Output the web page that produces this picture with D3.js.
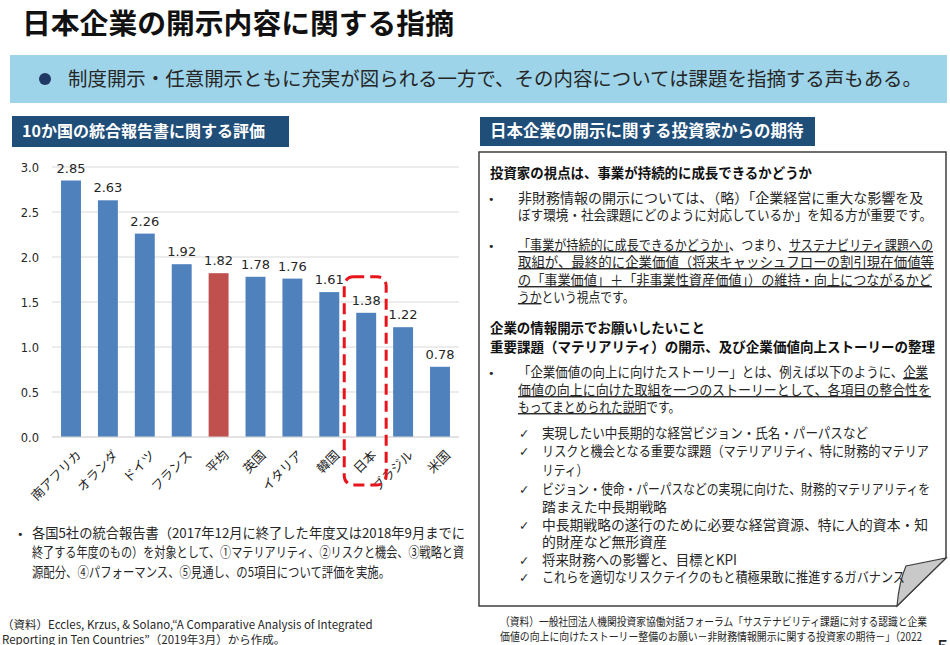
<!DOCTYPE html>
<html><head><meta charset="utf-8">
<script src="https://cdn.jsdelivr.net/npm/d3@7"></script>
<style>
html,body{margin:0;padding:0;background:#fff;}
svg{display:block;}
</style></head>
<body>
<svg id="c" width="950" height="645"></svg>
<script>
// ---- data ----
const categories = ["南アフリカ","オランダ","ドイツ","フランス","平均","英国","イタリア","韓国","日本","ブラジル","米国"];
const scores = [2.85, 2.63, 2.26, 1.92, 1.82, 1.78, 1.76, 1.61, 1.38, 1.22, 0.78];
const yTicks = [0, 0.5, 1.0, 1.5, 2.0, 2.5, 3.0];
const averageCategory = "平均";
const highlightCategory = "日本";

const pageTitle = "日本企業の開示内容に関する指摘";
const bannerText = "制度開示・任意開示ともに充実が図られる一方で、その内容については課題を指摘する声もある。";
const leftHeader = "10か国の統合報告書に関する評価";
const rightHeader = "日本企業の開示に関する投資家からの期待";
const leftNote = [
  "各国5社の統合報告書（2017年12月に終了した年度又は2018年9月までに",
  "終了する年度のもの）を対象として、①マテリアリティ、②リスクと機会、③戦略と資",
  "源配分、④パフォーマンス、⑤見通し、の5項目について評価を実施。"
];
const leftSource = [
  "（資料）Eccles, Krzus, & Solano,“A Comparative Analysis of Integrated",
  "Reporting in Ten Countries”（2019年3月）から作成。"
];
const rightSource = [
  "（資料）一般社団法人機関投資家協働対話フォーラム「サステナビリティ課題に対する認識と企業",
  "価値の向上に向けたストーリー整備のお願い－非財務情報開示に関する投資家の期待－」（2022",
  "年10月）より作成。"
];
// right panel lines: segments [text, underlined?]
const panelLines = [
  {kind:"head", segs:[["投資家の視点は、事業が持続的に成長できるかどうか",0]], w:322},
  {kind:"bullet", segs:[["非財務情報の開示については、（略）「企業経営に重大な影響を及",0]], w:410},
  {kind:"cont", segs:[["ぼす環境・社会課題にどのように対応しているか」を知る方が重要です。",0]], w:414},
  {kind:"bullet", segs:[["「事業が持続的に成長できるかどうか」",1],["、つまり、",0],["サステナビリティ課題への",1]], w:415},
  {kind:"cont", segs:[["取組が、最終的に企業価値（将来キャッシュフローの割引現在価値等",1]], w:416},
  {kind:"cont", segs:[["の「事業価値」＋「非事業性資産価値」）の維持・向上につながるかど",1]], w:414},
  {kind:"cont", segs:[["うか",1],["という視点です。",0]], w:114},
  {kind:"head", segs:[["企業の情報開示でお願いしたいこと",0]], w:215},
  {kind:"head", segs:[["重要課題（マテリアリティ）の開示、及び企業価値向上ストーリーの整理",0]], w:445},
  {kind:"bullet", segs:[["「企業価値の向上に向けたストーリー」とは、例えば以下のように、",0],["企業",1]], w:410},
  {kind:"cont", segs:[["価値の向上に向けた取組を一つのストーリーとして、各項目の整合性を",1]], w:413},
  {kind:"cont", segs:[["もってまとめられた説明",1],["です。",0]], w:154},
  {kind:"check", segs:[["実現したい中長期的な経営ビジョン・氏名・パーパスなど",0]], w:326},
  {kind:"check", segs:[["リスクと機会となる重要な課題（マテリアリティ、特に財務的マテリア",0]], w:387},
  {kind:"ccont", segs:[["リティ）",0]], w:36},
  {kind:"check", segs:[["ビジョン・使命・パーパスなどの実現に向けた、財務的マテリアリティを",0]], w:388},
  {kind:"ccont", segs:[["踏まえた中長期戦略",0]], w:125},
  {kind:"check", segs:[["中長期戦略の遂行のために必要な経営資源、特に人的資本・知",0]], w:386},
  {kind:"ccont", segs:[["的財産など無形資産",0]], w:125},
  {kind:"check", segs:[["将来財務への影響と、目標とKPI",0]], w:195},
  {kind:"check", segs:[["これらを適切なリスクテイクのもと積極果敢に推進するガバナンス",0]], w:363}
];
const panelLineY = [173,198,215,245,262,280,297,328,347,372,390,407,433,451,470,489,507,525,542,560,577];

// ---- drawing ----
const svg = d3.select("#c");
const JP = "'Noto Sans CJK JP', 'Noto Sans CJK SC', sans-serif";
const NUM = "'DejaVu Sans', Verdana, sans-serif";
const dark = "#262626";
const navy = "#1f4e79";

function fitText(sel, w, minRatio){
  const n = sel.node();
  const len = n.getComputedTextLength();
  const target = Math.max(w || len, len * (minRatio || 0.8));
  if (target < len) sel.attr("textLength", target).attr("lengthAdjust", "spacingAndGlyphs");
}
// baseline from visual center for CJK
const base = (cy, fs) => cy + 0.36*fs;

// Title
svg.append("text").attr("x", 22).attr("y", base(24, 28.5))
  .attr("font-family", JP).attr("font-weight", 700).attr("font-size", 28.8)
  .attr("fill", "#111").text(pageTitle);

// Banner
svg.append("rect").attr("x", 10).attr("y", 55).attr("width", 937).attr("height", 48).attr("fill", "#9dd4ea");
svg.append("circle").attr("cx", 45).attr("cy", 79).attr("r", 6).attr("fill", "#1f3864");
const bt = svg.append("text").attr("x", 68).attr("y", base(79, 19.5))
  .attr("font-family", JP).attr("font-size", 19.5).attr("fill", dark).text(bannerText);
fitText(bt, 854);

// Section headers
svg.append("rect").attr("x", 12).attr("y", 116).attr("width", 277).attr("height", 31).attr("fill", navy);
const lh = svg.append("text").attr("x", 22).attr("y", base(131.5, 16)).attr("font-family", JP)
  .attr("font-weight", 700).attr("font-size", 16).attr("fill", "#fff").text(leftHeader);
fitText(lh, 254);
svg.append("rect").attr("x", 480).attr("y", 117).attr("width", 335).attr("height", 29).attr("fill", navy);
const rh = svg.append("text").attr("x", 490).attr("y", base(131.5, 16.5)).attr("font-family", JP)
  .attr("font-weight", 700).attr("font-size", 16.5).attr("fill", "#fff").text(rightHeader);
fitText(rh, 314);

// ---- Bar chart ----
const x = d3.scaleBand().domain(categories).range([52, 459]).paddingInner(0.46).paddingOuter(0.245);
const y = d3.scaleLinear().domain([0, 3]).range([437, 167]);

const g = svg.append("g");
// gridlines
g.selectAll("line.grid").data(yTicks).join("line").attr("class","grid")
  .attr("x1", 52).attr("x2", 459).attr("y1", d => y(d)).attr("y2", d => y(d))
  .attr("stroke", "#d9d9d9").attr("stroke-width", 1);
// y axis via d3 axis
const yAxis = d3.axisLeft(y).tickValues(yTicks).tickFormat(d3.format(".1f")).tickSize(0).tickPadding(0);
const ya = g.append("g").attr("transform", "translate(39,0)").call(yAxis);
ya.select(".domain").remove();
ya.selectAll("text").attr("font-family", NUM).attr("font-size", 11.5).attr("fill", dark).attr("dy", "0.35em");

// bars
g.selectAll("rect.bar").data(categories).join("rect").attr("class","bar")
  .attr("x", d => x(d)).attr("width", x.bandwidth())
  .attr("y", (d,i) => y(scores[i])).attr("height", (d,i) => y(0) - y(scores[i]))
  .attr("fill", d => d === averageCategory ? "#c0504d" : "#4f81bd");
// value labels
g.selectAll("text.val").data(categories).join("text").attr("class","val")
  .attr("x", d => x(d) + x.bandwidth()/2).attr("y", (d,i) => y(scores[i]) - 8)
  .attr("text-anchor", "middle").attr("font-family", NUM).attr("font-size", 13).attr("fill", dark)
  .text((d,i) => scores[i].toFixed(2));
// baseline axis line
g.append("line").attr("x1",52).attr("x2",459).attr("y1",y(0)).attr("y2",y(0)).attr("stroke","#d9d9d9");
// x labels
const xAxis = d3.axisBottom(x).tickSize(0).tickPadding(0);
const xa = g.append("g").attr("transform", `translate(0,${y(0)})`).call(xAxis);
xa.select(".domain").remove();
xa.selectAll("text")
  .attr("font-family", JP).attr("font-size", 12.8).attr("fill", dark)
  .attr("text-anchor", "end").attr("y", 0).attr("dy", 0)
  .attr("transform", "translate(11,19) rotate(-45)");

// highlight dashed box
const hx = x(highlightCategory), hv = scores[categories.indexOf(highlightCategory)];
g.append("rect").attr("x", hx - 12).attr("y", y(hv) - 36)
  .attr("width", x.bandwidth() + 22).attr("height", (y(0) + 48) - (y(hv) - 36))
  .attr("rx", 9).attr("fill", "none").attr("stroke", "#e8141c").attr("stroke-width", 3)
  .attr("stroke-dasharray", "11,6");

// Left note
svg.append("text").attr("x", 17).attr("y", base(533, 13.5)).attr("font-family", NUM)
  .attr("font-size", 11).attr("fill", dark).text("•");
leftNote.forEach((t, i) => {
  const s = svg.append("text").attr("x", 32).attr("y", base(533 + i*19.5, 13.5))
    .attr("font-family", JP).attr("font-size", 13.5).attr("fill", dark).text(t);
  fitText(s, [433, 432, 358][i]);
});
leftSource.forEach((t, i) => {
  const s = svg.append("text").attr("x", 2).attr("y", base(625 + i*15, 11.5))
    .attr("font-family", JP).attr("font-size", 11.5).attr("fill", dark).text(t);
  fitText(s, [398, 285][i]);
});

// ---- Right panel ----
svg.append("path")
  .attr("d", "M479,152 L946,152 L946,558 L897,606 L479,606 Z")
  .attr("fill", "#fff").attr("stroke", "#3f3f3f").attr("stroke-width", 1.5);
svg.append("path")
  .attr("d", "M897,606 Q899,582 906,566 L946,558 Z")
  .attr("fill", "#c9c9c9").attr("stroke", "#3f3f3f").attr("stroke-width", 1.2);

panelLines.forEach((ln, i) => {
  const cy = panelLineY[i];
  const fs = 14;
  let tx = 518;
  if (ln.kind === "head") tx = 490;
  if (ln.kind === "check" || ln.kind === "ccont") tx = 542;
  if (ln.kind === "bullet") {
    svg.append("text").attr("x", 488).attr("y", base(cy, fs)).attr("font-family", NUM)
      .attr("font-size", 11).attr("fill", dark).text("•");
  }
  if (ln.kind === "check") {
    svg.append("text").attr("x", 519).attr("y", base(cy, fs)).attr("font-family", NUM)
      .attr("font-size", 12.5).attr("fill", dark).text("✓");
  }
  const t = svg.append("text").attr("x", tx).attr("y", base(cy, fs))
    .attr("font-family", JP).attr("font-size", fs).attr("fill", ln.kind === "head" ? "#111" : dark)
    .attr("font-weight", ln.kind === "head" ? 700 : 400);
  ln.segs.forEach(([s, u]) => {
    const ts = t.append("tspan").text(s);
    if (u) ts.attr("text-decoration", "underline").style("text-decoration", "underline");
  });
  fitText(t, ln.w, 0.84);
});

rightSource.forEach((tx, i) => {
  const s = svg.append("text").attr("x", 500).attr("y", base(622 + i*15, 11.5))
    .attr("font-family", JP).attr("font-size", 11.5).attr("fill", dark).text(tx);
  fitText(s, [427, 422, 120][i]);
});
svg.append("text").attr("x", 937).attr("y", 654).attr("font-family", NUM)
  .attr("font-size", 19).attr("fill", dark).text("5");
</script>
</body></html>
